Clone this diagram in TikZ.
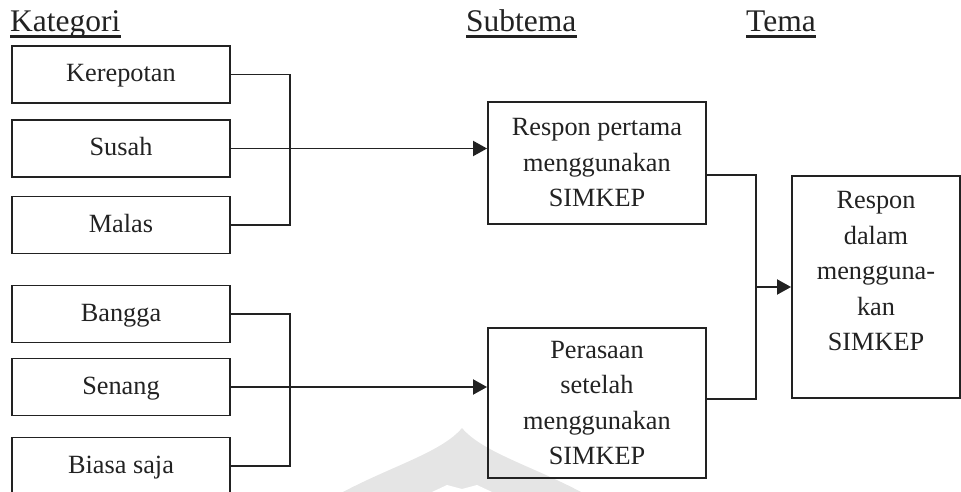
\documentclass[tikz,border=0pt]{standalone}
\usepackage{fontspec}
\setmainfont{Liberation Serif}
\usetikzlibrary{arrows.meta}

\definecolor{ink}{HTML}{222222}

\tikzset{
  catbox/.style={draw=ink, line width=1.9pt, minimum width=218pt, minimum height=57pt,
    inner sep=0pt, text=ink, font=\fontsize{26.3pt}{35.5pt}\selectfont,
    text height=17.5pt, text depth=3pt},
  subbox/.style={draw=ink, line width=1.9pt, minimum width=218pt, inner sep=0pt,
    align=center, text=ink, font=\fontsize{26.3pt}{35.5pt}\selectfont},
  themebox/.style={draw=ink, line width=1.9pt, minimum width=168pt, minimum height=222pt,
    inner sep=0pt, align=center, text=ink, font=\fontsize{26.3pt}{35.5pt}\selectfont,
    text depth=32pt},
  heading/.style={anchor=base west, inner sep=0pt, text=ink,
    font=\fontsize{31.5pt}{36pt}\selectfont},
  link/.style={draw=ink, line width=1.9pt},
  arrowlink/.style={link, -{Triangle[length=14pt,width=15pt]}},
}

\begin{document}
\begin{tikzpicture}[x=1pt, y=-1pt]
  \useasboundingbox (0,0) rectangle (961,492);

  % faint seal printed behind the lower middle of the page
  \fill[black!10] (343,492) .. controls (392,466) and (442,452) .. (462,428)
        .. controls (482,452) and (532,466) .. (581,492) -- cycle;
  \fill[white] (432,492) -- (447,485) -- (462,489) -- (477,485) -- (492,492) -- cycle;

  % column headings
  \node[heading] (hkat) at (10,32) {Kategori};
  \node[heading] (hsub) at (466,32) {Subtema};
  \node[heading] (htem) at (746,32) {Tema};
  \foreach \h in {hkat,hsub,htem}
    \draw[ink, line width=2.2pt] ([yshift=-4.5pt]\h.base west) -- ([yshift=-4.5pt]\h.base east);

  % categories
  \node[catbox] (ker) at (121,74.5) {Kerepotan};
  \node[catbox] (sus) at (121,148.5) {Susah};
  \node[catbox] (mal) at (121,225) {Malas};
  \node[catbox] (ban) at (121,314) {Bangga};
  \node[catbox] (sen) at (121,387) {Senang};
  \node[catbox] (bia) at (121,466) {Biasa saja};

  % sub-themes
  \node[subbox, minimum height=122pt] (rp) at (597,163)
    {Respon pertama\\menggunakan\\SIMKEP};
  \node[subbox, minimum height=150pt] (pe) at (597,403)
    {Perasaan\\setelah\\menggunakan\\SIMKEP};

  % theme
  \node[themebox] (rd) at (876,287)
    {Respon\\dalam\\mengguna-\\kan\\SIMKEP};

  % categories to sub-themes
  \draw[link] (ker.east) -- ++(59,0) |- (mal.east);
  \draw[arrowlink] (sus.east) -- (sus.east -| rp.west);
  \draw[link] (ban.east) -- ++(59,0) |- (bia.east);
  \draw[arrowlink] (sen.east) -- (sen.east -| pe.west);

  % sub-themes to theme
  \coordinate (join) at (756,287);
  \draw[link] (rp.east |- rd.north) -| (join) |- (pe.east |- rd.south);
  \draw[arrowlink] (join) -- (rd.west);
\end{tikzpicture}
\end{document}
